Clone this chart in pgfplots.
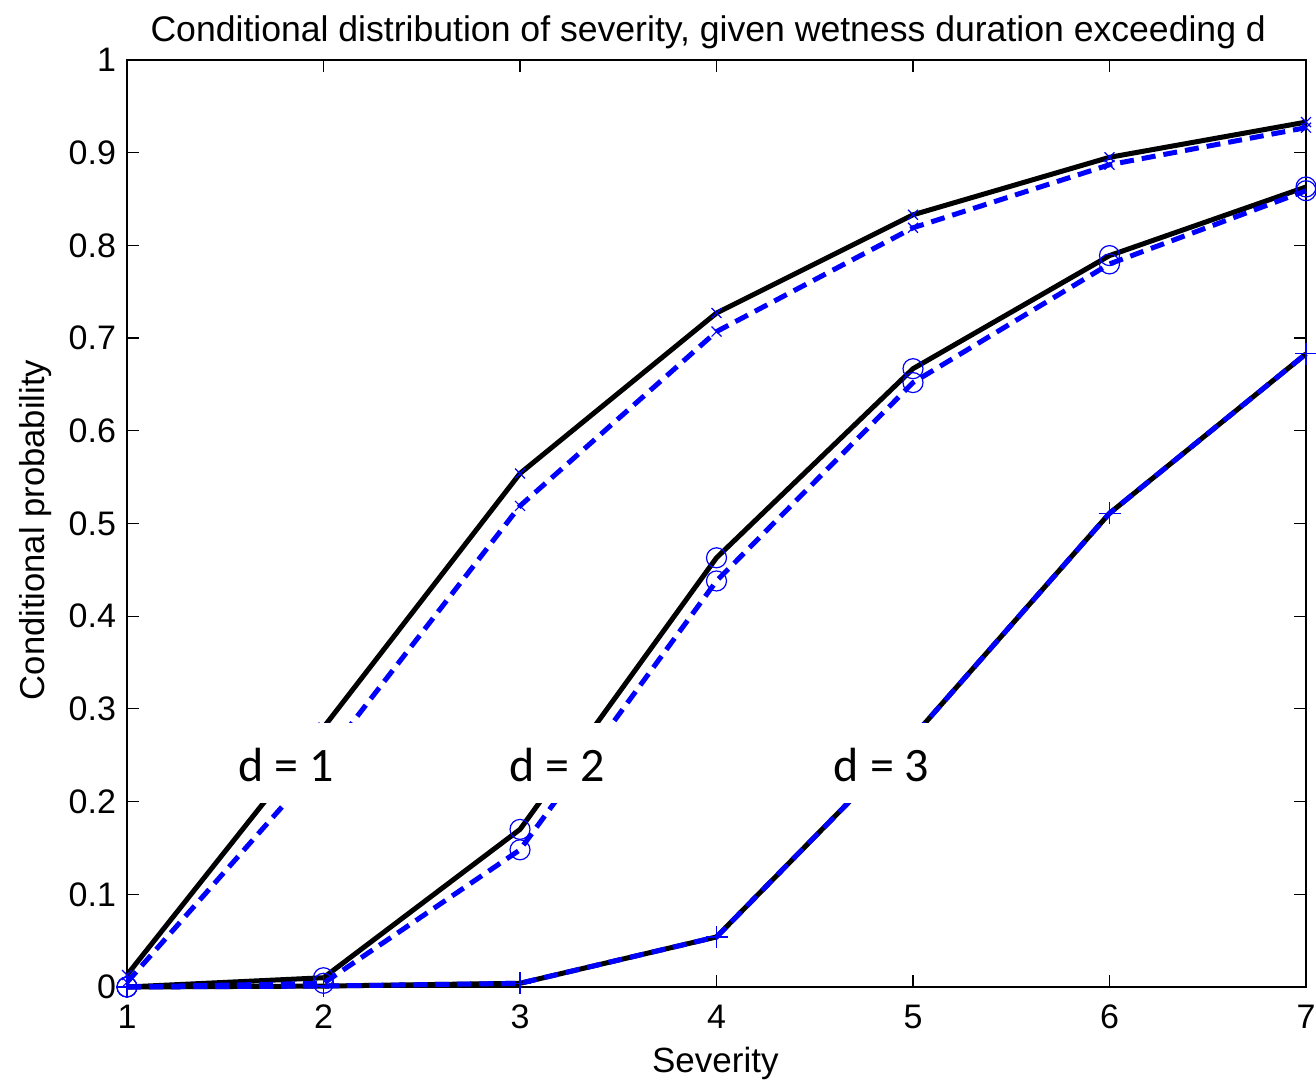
\documentclass[border=0pt]{standalone}
\usepackage{fontspec}
\setmainfont{Liberation Sans}
\newfontfamily\calibri{Carlito}
\usepackage{pgfplots}
\pgfplotsset{compat=1.18}

\begin{document}
\begin{tikzpicture}
\path[use as bounding box] (0,0) rectangle (658pt,540.5pt);
\begin{axis}[
    at={(63.5pt,47pt)}, anchor=south west,
    width=589.5pt, height=463.5pt, scale only axis,
    xmin=1, xmax=7, ymin=0, ymax=1,
    xtick={1,2,3,4,5,6,7},
    ytick={0,0.1,0.2,0.3,0.4,0.5,0.6,0.7,0.8,0.9,1},
    tick align=inside,
    major tick length=6pt,
    xtick pos=both, ytick pos=both,
    axis line style={line width=1pt},
    every tick/.style={black, line width=0.6pt},
    clip=false,
    /pgf/number format/assume math mode=true,
    ticklabel style={font=\fontsize{17}{20}\selectfont},
    yticklabel style={xshift=-2pt},
    xticklabel style={yshift=-5.5pt},
    title={Conditional distribution of severity, given wetness duration exceeding d},
    title style={at={(axis description cs:0.493,0.999)}, anchor=south,
        inner sep=0pt, yshift=0pt, font=\fontsize{17.8}{21}\selectfont},
    xlabel={Severity},
    xlabel style={at={(axis description cs:0.499,-0.0917)}, anchor=base,
        font=\fontsize{17.5}{21}\selectfont},
    ylabel={Conditional probability},
    ylabel style={at={(axis description cs:-0.0696,0.493)}, anchor=base,
        rotate=0, font=\fontsize{17.3}{21}\selectfont},
]

% ---- black solid curves (blue markers) ----
\addplot[black, line width=2.5pt, mark=x, mark size=3.5pt,
    mark options={blue, solid, line width=0.6pt}]
    coordinates {(1,0.013) (2,0.280) (3,0.554) (4,0.727) (5,0.833) (6,0.895) (7,0.933)};
\addplot[black, line width=2.5pt, mark=o, mark size=5pt,
    mark options={blue, solid, line width=0.6pt}]
    coordinates {(1,0.000) (2,0.010) (3,0.170) (4,0.463) (5,0.667) (6,0.789) (7,0.863)};
\addplot[black, line width=2.5pt, mark=+, mark size=5.5pt,
    mark options={blue, solid, line width=0.6pt}]
    coordinates {(1,0.000) (2,0.001) (3,0.004) (4,0.054) (5,0.270) (6,0.511) (7,0.683)};

% ---- blue dashed curves ----
\addplot[blue, line width=2.5pt, dash pattern=on 7pt off 4pt, mark=x, mark size=3.5pt,
    mark options={blue, solid, line width=0.6pt}]
    coordinates {(1,0.005) (2,0.245) (3,0.519) (4,0.707) (5,0.819) (6,0.887) (7,0.927)};
\addplot[blue, line width=2.5pt, dash pattern=on 7pt off 4pt, mark=o, mark size=5pt,
    mark options={blue, solid, line width=0.6pt}]
    coordinates {(1,0.000) (2,0.004) (3,0.148) (4,0.438) (5,0.652) (6,0.780) (7,0.859)};
\addplot[blue, line width=2.5pt, dash pattern=on 7pt off 4pt, mark=+, mark size=5.5pt,
    mark options={blue, solid, line width=0.6pt}]
    coordinates {(1,0.000) (2,0.001) (3,0.004) (4,0.054) (5,0.270) (6,0.511) (7,0.683)};

% corners of the white label band and label positions
\coordinate (bandSW) at (axis cs:1.08,0.198);
\coordinate (bandNE) at (axis cs:6.92,0.285);
\coordinate (lab1) at (axis cs:1.81,0.2395);
\coordinate (lab2) at (axis cs:3.19,0.2395);
\coordinate (lab3) at (axis cs:4.84,0.2395);
\end{axis}

% white band drawn over lines and marks
\fill[white] (bandSW) rectangle (bandNE);
\node[font=\calibri\fontsize{24}{28}\selectfont] at (lab1) {d = 1};
\node[font=\calibri\fontsize{24}{28}\selectfont] at (lab2) {d = 2};
\node[font=\calibri\fontsize{24}{28}\selectfont] at (lab3) {d = 3};
\end{tikzpicture}
\end{document}
